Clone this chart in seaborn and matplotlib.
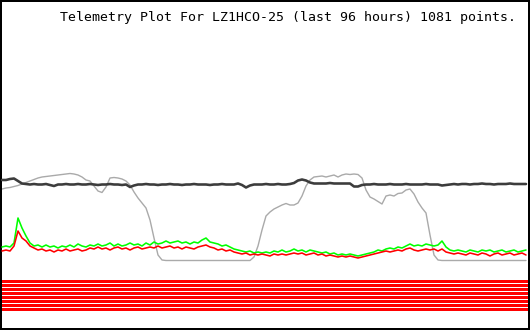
import numpy as np
import pandas as pd
import matplotlib
matplotlib.use("Agg")
import matplotlib.pyplot as plt
import seaborn as sns

TITLE = "Telemetry Plot For LZ1HCO-25 (last 96 hours) 1081 points."

# Values on a screen-row scale (larger = lower on the plot), 132 samples over 96 hours
hours = np.linspace(0, 96, 132)

black_vals = [180, 180, 179, 178.5, 181, 183.5, 184, 184.5, 184, 184.5, 184.5, 184, 185, 186, 184.5, 184.5,
              184, 184.5, 184.5, 184, 184.5, 184.5, 184, 184.5, 185, 184.5, 184.5, 184, 184.5, 184.5, 185, 184.5,
              187, 185.5, 184.5, 184.5, 184, 184.5, 184.5, 185, 184.5, 184.5, 184, 184.5, 184.5, 185, 184.5, 184.5,
              184, 184.5, 184.5, 184.5, 185, 184.5, 184.5, 184, 184.5, 184.5, 184.5, 183.5, 185, 187.5, 185.5, 184.5,
              184.5, 184.5, 184, 184.5, 184.5, 184, 184.5, 184.5, 184, 183, 180.5, 179.5, 180.5, 182.5, 183.5, 183.5,
              183.5, 183.5, 183, 183.5, 183.5, 183.5, 183.5, 183.5, 186.5, 186.5, 185, 184.5, 184.5, 184, 184.5, 184.5,
              184.5, 184, 184.5, 184.5, 184.5, 184, 184.5, 184.5, 184.5, 184.5, 184, 184.5, 184.5, 184.5, 185.5, 185,
              184.5, 184, 184.5, 184, 184, 184.5, 184, 184, 183.5, 184, 184, 184.5, 184, 184, 184, 183.5,
              184, 184, 184, 184]

gray_vals = [189, 188, 187.5, 186.5, 185.5, 184, 182.5, 181, 179.5, 178, 177, 176.5, 176, 175.5, 175, 174.5,
             174, 173.5, 174, 175, 177, 180, 181, 186, 191, 192.5, 187, 178, 177.5, 178, 179, 181,
             185, 192, 198, 203, 208, 220, 238, 255, 260, 260.5, 260.5, 260.5, 260.5, 260.5, 260.5, 260.5,
             260.5, 260.5, 260.5, 260.5, 260.5, 260.5, 260.5, 260.5, 260.5, 260.5, 260.5, 260.5, 260.5, 260.5, 260.5, 257,
             246, 230, 216, 212, 209, 207, 205, 203.5, 205, 205, 203, 196, 186, 180, 177, 176.5,
             176, 177, 176, 175, 177, 175, 174, 174.5, 174, 174.5, 178, 190, 197, 199, 201.5, 204,
             196, 195, 196, 193.5, 193, 190, 189, 194, 202, 208, 213, 235, 255, 260, 260.5, 260.5,
             260.5, 260.5, 260.5, 260.5, 260.5, 260.5, 260.5, 260.5, 260.5, 260.5, 260.5, 260.5, 260.5, 260.5, 260.5, 260.5,
             260.5, 260.5, 260.5, 260.5]

green_vals = [247, 246, 247, 243, 218, 228, 236, 243, 246, 245, 247, 245, 247, 246, 248, 246,
              247, 245, 247, 244, 246, 247, 245, 246, 244, 246, 245, 243, 246, 244, 246, 245,
              243, 245, 244, 246, 243, 245, 242, 244, 243, 241, 243, 242, 241, 243, 242, 244,
              242, 243, 240, 238, 242, 243, 244, 246, 245, 247, 249, 250, 251, 252, 251, 253,
              252, 253, 252, 253, 251, 252, 250, 252, 251, 249, 251, 250, 252, 250, 251, 252,
              253, 252, 254, 253, 255, 254, 255, 254, 255, 256, 255, 254, 253, 252, 250, 251,
              249, 248, 249, 247, 248, 246, 244, 246, 245, 246, 244, 245, 246, 245, 241, 247,
              250, 251, 250, 251, 252, 250, 251, 252, 250, 251, 250, 252, 251, 250, 252, 251,
              250, 252, 251, 250]

red_vals = [251, 250, 251, 246, 231, 238, 241, 246, 248, 250, 249, 251, 250, 252, 250, 251,
            249, 251, 250, 249, 251, 250, 248, 249, 247, 249, 248, 250, 248, 247, 249, 248,
            250, 248, 247, 249, 248, 247, 248, 246, 248, 247, 246, 248, 247, 249, 247, 248,
            249, 247, 246, 245, 247, 248, 250, 249, 251, 250, 252, 253, 254, 253, 255, 254,
            255, 254, 255, 256, 254, 255, 254, 255, 254, 253, 254, 253, 255, 254, 253, 255,
            254, 256, 255, 256, 257, 256, 257, 256, 257, 258, 257, 256, 255, 254, 253, 252,
            251, 252, 251, 250, 251, 249, 248, 250, 251, 250, 249, 250, 249, 251, 249, 252,
            253, 254, 253, 254, 255, 253, 254, 255, 253, 254, 256, 254, 253, 255, 254, 253,
            255, 254, 253, 255]

stripe_levels = [281.5, 285.5, 289.5, 293.5, 297.5, 301.5, 305.5, 309.5]
stripe_half = 1.5

df = pd.DataFrame({"hours": hours, "black": black_vals, "gray": gray_vals,
                   "green": green_vals, "red": red_vals})

sns.set_style("white")
fig = plt.figure(figsize=(5.3, 3.3), dpi=100)
ax = fig.add_axes([0, 0, 1, 1])

px = 72 / 100.0
for lev in stripe_levels:
    ax.axhspan(lev - stripe_half, lev + stripe_half, color="#ff0000", lw=0, zorder=1)

sns.lineplot(data=df, x="hours", y="gray", ax=ax, color="#aaaaaa", lw=1.4 * px, zorder=2)
sns.lineplot(data=df, x="hours", y="black", ax=ax, color="#3c3c3c", lw=2.6 * px, zorder=3)
sns.lineplot(data=df, x="hours", y="green", ax=ax, color="#00ff00", lw=1.6 * px, zorder=4)
sns.lineplot(data=df, x="hours", y="red", ax=ax, color="#ff0000", lw=1.6 * px, zorder=5)

step = 96 / 524
ax.set_xlim(-2 * step, 96 + 4 * step)
ax.set_ylim(330, 0)
ax.set_xticks([])
ax.set_yticks([])
ax.set_xlabel("")
ax.set_ylabel("")
for s in ax.spines.values():
    s.set_visible(True)
    s.set_color("black")
    s.set_linewidth(4 * px)

ax.text(60 / 530, 1 - 17 / 330, TITLE, transform=ax.transAxes, ha="left", va="center",
        family="DejaVu Sans Mono", fontsize=9.5, color="black")

fig.savefig("out.png", dpi=100)
